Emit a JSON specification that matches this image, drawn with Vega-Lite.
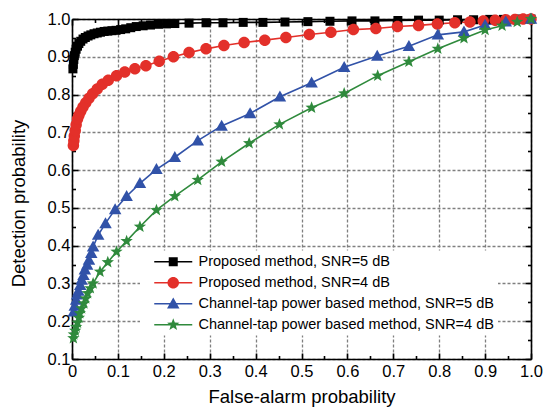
{
 "$schema": "https://vega.github.io/schema/vega-lite/v6.json",
 "width": 459, "height": 340,
 "autosize": {"type": "none"},
 "padding": {"left": 72, "top": 19, "right": 13, "bottom": 52},
 "background": "white",
 "config": {
  "view": {"stroke": null},
  "font": "Liberation Sans",
  "axis": {"labelFont": "Liberation Sans", "titleFont": "Liberation Sans", "labelColor": "black", "titleColor": "black", "tickColor": "black", "domainColor": "black", "domainWidth": 1.6, "tickWidth": 1.6, "labelFontSize": 16.5, "titleFontSize": 18.5, "titleFontWeight": "normal", "grid": false, "labelFlush": false, "labelOverlap": false}
 },
 "resolve": {"axis": {"x": "independent", "y": "independent"}, "scale": {"color": "independent", "shape": "independent"}},
 "data": {"values": [
  {"s":"Proposed method, SNR=5 dB","fa":0.002,"pd":0.868},{"s":"Proposed method, SNR=5 dB","fa":0.003,"pd":0.88},{"s":"Proposed method, SNR=5 dB","fa":0.004,"pd":0.893},{"s":"Proposed method, SNR=5 dB","fa":0.005,"pd":0.903},{"s":"Proposed method, SNR=5 dB","fa":0.007,"pd":0.912},{"s":"Proposed method, SNR=5 dB","fa":0.009,"pd":0.92},{"s":"Proposed method, SNR=5 dB","fa":0.012,"pd":0.928},{"s":"Proposed method, SNR=5 dB","fa":0.015,"pd":0.935},{"s":"Proposed method, SNR=5 dB","fa":0.019,"pd":0.941},{"s":"Proposed method, SNR=5 dB","fa":0.024,"pd":0.947},{"s":"Proposed method, SNR=5 dB","fa":0.029,"pd":0.951},{"s":"Proposed method, SNR=5 dB","fa":0.035,"pd":0.955},{"s":"Proposed method, SNR=5 dB","fa":0.041,"pd":0.958},{"s":"Proposed method, SNR=5 dB","fa":0.048,"pd":0.961},{"s":"Proposed method, SNR=5 dB","fa":0.055,"pd":0.963},{"s":"Proposed method, SNR=5 dB","fa":0.062,"pd":0.965},{"s":"Proposed method, SNR=5 dB","fa":0.07,"pd":0.967},{"s":"Proposed method, SNR=5 dB","fa":0.078,"pd":0.968},{"s":"Proposed method, SNR=5 dB","fa":0.087,"pd":0.969},{"s":"Proposed method, SNR=5 dB","fa":0.096,"pd":0.97},{"s":"Proposed method, SNR=5 dB","fa":0.106,"pd":0.972},{"s":"Proposed method, SNR=5 dB","fa":0.117,"pd":0.974},{"s":"Proposed method, SNR=5 dB","fa":0.128,"pd":0.977},{"s":"Proposed method, SNR=5 dB","fa":0.14,"pd":0.98},{"s":"Proposed method, SNR=5 dB","fa":0.155,"pd":0.982},{"s":"Proposed method, SNR=5 dB","fa":0.171,"pd":0.984},{"s":"Proposed method, SNR=5 dB","fa":0.188,"pd":0.986},{"s":"Proposed method, SNR=5 dB","fa":0.206,"pd":0.987},{"s":"Proposed method, SNR=5 dB","fa":0.224,"pd":0.988},{"s":"Proposed method, SNR=5 dB","fa":0.255,"pd":0.989},{"s":"Proposed method, SNR=5 dB","fa":0.292,"pd":0.99},{"s":"Proposed method, SNR=5 dB","fa":0.329,"pd":0.99},{"s":"Proposed method, SNR=5 dB","fa":0.373,"pd":0.991},{"s":"Proposed method, SNR=5 dB","fa":0.416,"pd":0.991},{"s":"Proposed method, SNR=5 dB","fa":0.464,"pd":0.992},{"s":"Proposed method, SNR=5 dB","fa":0.514,"pd":0.993},{"s":"Proposed method, SNR=5 dB","fa":0.562,"pd":0.994},{"s":"Proposed method, SNR=5 dB","fa":0.61,"pd":0.995},{"s":"Proposed method, SNR=5 dB","fa":0.66,"pd":0.995},{"s":"Proposed method, SNR=5 dB","fa":0.71,"pd":0.996},{"s":"Proposed method, SNR=5 dB","fa":0.755,"pd":0.997},{"s":"Proposed method, SNR=5 dB","fa":0.8,"pd":0.997},{"s":"Proposed method, SNR=5 dB","fa":0.84,"pd":0.998},{"s":"Proposed method, SNR=5 dB","fa":0.875,"pd":0.998},{"s":"Proposed method, SNR=5 dB","fa":0.91,"pd":0.999},{"s":"Proposed method, SNR=5 dB","fa":0.94,"pd":0.999},{"s":"Proposed method, SNR=5 dB","fa":0.97,"pd":1.0},{"s":"Proposed method, SNR=5 dB","fa":1.0,"pd":1.0},
  {"s":"Proposed method, SNR=4 dB","fa":0.003,"pd":0.665},{"s":"Proposed method, SNR=4 dB","fa":0.004,"pd":0.678},{"s":"Proposed method, SNR=4 dB","fa":0.005,"pd":0.69},{"s":"Proposed method, SNR=4 dB","fa":0.007,"pd":0.705},{"s":"Proposed method, SNR=4 dB","fa":0.009,"pd":0.72},{"s":"Proposed method, SNR=4 dB","fa":0.012,"pd":0.735},{"s":"Proposed method, SNR=4 dB","fa":0.015,"pd":0.745},{"s":"Proposed method, SNR=4 dB","fa":0.019,"pd":0.756},{"s":"Proposed method, SNR=4 dB","fa":0.024,"pd":0.767},{"s":"Proposed method, SNR=4 dB","fa":0.03,"pd":0.778},{"s":"Proposed method, SNR=4 dB","fa":0.037,"pd":0.79},{"s":"Proposed method, SNR=4 dB","fa":0.045,"pd":0.802},{"s":"Proposed method, SNR=4 dB","fa":0.055,"pd":0.815},{"s":"Proposed method, SNR=4 dB","fa":0.066,"pd":0.827},{"s":"Proposed method, SNR=4 dB","fa":0.079,"pd":0.838},{"s":"Proposed method, SNR=4 dB","fa":0.097,"pd":0.85},{"s":"Proposed method, SNR=4 dB","fa":0.115,"pd":0.86},{"s":"Proposed method, SNR=4 dB","fa":0.137,"pd":0.868},{"s":"Proposed method, SNR=4 dB","fa":0.161,"pd":0.876},{"s":"Proposed method, SNR=4 dB","fa":0.19,"pd":0.888},{"s":"Proposed method, SNR=4 dB","fa":0.221,"pd":0.9},{"s":"Proposed method, SNR=4 dB","fa":0.255,"pd":0.911},{"s":"Proposed method, SNR=4 dB","fa":0.292,"pd":0.921},{"s":"Proposed method, SNR=4 dB","fa":0.331,"pd":0.93},{"s":"Proposed method, SNR=4 dB","fa":0.375,"pd":0.938},{"s":"Proposed method, SNR=4 dB","fa":0.42,"pd":0.944},{"s":"Proposed method, SNR=4 dB","fa":0.466,"pd":0.951},{"s":"Proposed method, SNR=4 dB","fa":0.517,"pd":0.959},{"s":"Proposed method, SNR=4 dB","fa":0.564,"pd":0.965},{"s":"Proposed method, SNR=4 dB","fa":0.613,"pd":0.972},{"s":"Proposed method, SNR=4 dB","fa":0.662,"pd":0.975},{"s":"Proposed method, SNR=4 dB","fa":0.709,"pd":0.98},{"s":"Proposed method, SNR=4 dB","fa":0.755,"pd":0.983},{"s":"Proposed method, SNR=4 dB","fa":0.796,"pd":0.987},{"s":"Proposed method, SNR=4 dB","fa":0.834,"pd":0.99},{"s":"Proposed method, SNR=4 dB","fa":0.867,"pd":0.992},{"s":"Proposed method, SNR=4 dB","fa":0.896,"pd":0.995},{"s":"Proposed method, SNR=4 dB","fa":0.922,"pd":0.997},{"s":"Proposed method, SNR=4 dB","fa":0.945,"pd":0.998},{"s":"Proposed method, SNR=4 dB","fa":0.965,"pd":0.999},{"s":"Proposed method, SNR=4 dB","fa":0.983,"pd":1.0},{"s":"Proposed method, SNR=4 dB","fa":1.0,"pd":1.0},
  {"s":"Channel-tap power based method, SNR=5 dB","fa":0.004,"pd":0.225},{"s":"Channel-tap power based method, SNR=5 dB","fa":0.006,"pd":0.24},{"s":"Channel-tap power based method, SNR=5 dB","fa":0.009,"pd":0.256},{"s":"Channel-tap power based method, SNR=5 dB","fa":0.011,"pd":0.27},{"s":"Channel-tap power based method, SNR=5 dB","fa":0.014,"pd":0.28},{"s":"Channel-tap power based method, SNR=5 dB","fa":0.018,"pd":0.295},{"s":"Channel-tap power based method, SNR=5 dB","fa":0.021,"pd":0.309},{"s":"Channel-tap power based method, SNR=5 dB","fa":0.025,"pd":0.322},{"s":"Channel-tap power based method, SNR=5 dB","fa":0.028,"pd":0.336},{"s":"Channel-tap power based method, SNR=5 dB","fa":0.033,"pd":0.349},{"s":"Channel-tap power based method, SNR=5 dB","fa":0.037,"pd":0.362},{"s":"Channel-tap power based method, SNR=5 dB","fa":0.042,"pd":0.38},{"s":"Channel-tap power based method, SNR=5 dB","fa":0.046,"pd":0.397},{"s":"Channel-tap power based method, SNR=5 dB","fa":0.057,"pd":0.428},{"s":"Channel-tap power based method, SNR=5 dB","fa":0.073,"pd":0.459},{"s":"Channel-tap power based method, SNR=5 dB","fa":0.094,"pd":0.496},{"s":"Channel-tap power based method, SNR=5 dB","fa":0.119,"pd":0.531},{"s":"Channel-tap power based method, SNR=5 dB","fa":0.148,"pd":0.565},{"s":"Channel-tap power based method, SNR=5 dB","fa":0.184,"pd":0.602},{"s":"Channel-tap power based method, SNR=5 dB","fa":0.224,"pd":0.634},{"s":"Channel-tap power based method, SNR=5 dB","fa":0.274,"pd":0.678},{"s":"Channel-tap power based method, SNR=5 dB","fa":0.326,"pd":0.717},{"s":"Channel-tap power based method, SNR=5 dB","fa":0.388,"pd":0.75},{"s":"Channel-tap power based method, SNR=5 dB","fa":0.453,"pd":0.794},{"s":"Channel-tap power based method, SNR=5 dB","fa":0.522,"pd":0.831},{"s":"Channel-tap power based method, SNR=5 dB","fa":0.593,"pd":0.872},{"s":"Channel-tap power based method, SNR=5 dB","fa":0.665,"pd":0.902},{"s":"Channel-tap power based method, SNR=5 dB","fa":0.734,"pd":0.928},{"s":"Channel-tap power based method, SNR=5 dB","fa":0.797,"pd":0.958},{"s":"Channel-tap power based method, SNR=5 dB","fa":0.854,"pd":0.966},{"s":"Channel-tap power based method, SNR=5 dB","fa":0.9,"pd":0.984},{"s":"Channel-tap power based method, SNR=5 dB","fa":0.945,"pd":0.993},{"s":"Channel-tap power based method, SNR=5 dB","fa":1.0,"pd":1.0},
  {"s":"Channel-tap power based method, SNR=4 dB","fa":0.003,"pd":0.155},{"s":"Channel-tap power based method, SNR=4 dB","fa":0.004,"pd":0.165},{"s":"Channel-tap power based method, SNR=4 dB","fa":0.007,"pd":0.175},{"s":"Channel-tap power based method, SNR=4 dB","fa":0.009,"pd":0.185},{"s":"Channel-tap power based method, SNR=4 dB","fa":0.012,"pd":0.196},{"s":"Channel-tap power based method, SNR=4 dB","fa":0.015,"pd":0.209},{"s":"Channel-tap power based method, SNR=4 dB","fa":0.017,"pd":0.221},{"s":"Channel-tap power based method, SNR=4 dB","fa":0.021,"pd":0.234},{"s":"Channel-tap power based method, SNR=4 dB","fa":0.026,"pd":0.247},{"s":"Channel-tap power based method, SNR=4 dB","fa":0.03,"pd":0.26},{"s":"Channel-tap power based method, SNR=4 dB","fa":0.034,"pd":0.274},{"s":"Channel-tap power based method, SNR=4 dB","fa":0.04,"pd":0.287},{"s":"Channel-tap power based method, SNR=4 dB","fa":0.046,"pd":0.3},{"s":"Channel-tap power based method, SNR=4 dB","fa":0.061,"pd":0.331},{"s":"Channel-tap power based method, SNR=4 dB","fa":0.078,"pd":0.356},{"s":"Channel-tap power based method, SNR=4 dB","fa":0.097,"pd":0.384},{"s":"Channel-tap power based method, SNR=4 dB","fa":0.119,"pd":0.412},{"s":"Channel-tap power based method, SNR=4 dB","fa":0.148,"pd":0.45},{"s":"Channel-tap power based method, SNR=4 dB","fa":0.184,"pd":0.494},{"s":"Channel-tap power based method, SNR=4 dB","fa":0.224,"pd":0.531},{"s":"Channel-tap power based method, SNR=4 dB","fa":0.274,"pd":0.574},{"s":"Channel-tap power based method, SNR=4 dB","fa":0.326,"pd":0.622},{"s":"Channel-tap power based method, SNR=4 dB","fa":0.386,"pd":0.671},{"s":"Channel-tap power based method, SNR=4 dB","fa":0.452,"pd":0.721},{"s":"Channel-tap power based method, SNR=4 dB","fa":0.522,"pd":0.765},{"s":"Channel-tap power based method, SNR=4 dB","fa":0.593,"pd":0.803},{"s":"Channel-tap power based method, SNR=4 dB","fa":0.666,"pd":0.85},{"s":"Channel-tap power based method, SNR=4 dB","fa":0.734,"pd":0.887},{"s":"Channel-tap power based method, SNR=4 dB","fa":0.797,"pd":0.921},{"s":"Channel-tap power based method, SNR=4 dB","fa":0.854,"pd":0.949},{"s":"Channel-tap power based method, SNR=4 dB","fa":0.9,"pd":0.971},{"s":"Channel-tap power based method, SNR=4 dB","fa":0.937,"pd":0.982},{"s":"Channel-tap power based method, SNR=4 dB","fa":0.97,"pd":0.992},{"s":"Channel-tap power based method, SNR=4 dB","fa":1.0,"pd":1.0}
 ]},
 "layer": [
  {
   "mark": {"type": "line", "strokeWidth": 1.6},
   "encoding": {
    "x": {"field": "fa", "type": "quantitative", "scale": {"domain": [0, 1], "nice": false, "zero": false},
     "axis": {"orient": "bottom", "values": [0,0.1,0.2,0.3,0.4,0.5,0.6,0.7,0.8,0.9,1.0], "grid": true, "gridDash": [3,2], "gridColor": "#7f7f7f", "gridWidth": 1.3, "tickSize": -6, "labelPadding": 10, "labelExpr": "datum.value == 0 ? '0' : format(datum.value, '.1f')", "title": "False-alarm probability", "titleY": 43, "titleBaseline": "alphabetic"}},
    "y": {"field": "pd", "type": "quantitative", "scale": {"domain": [0.1, 1], "nice": false, "zero": false},
     "axis": {"orient": "left", "values": [0.1,0.2,0.3,0.4,0.5,0.6,0.7,0.8,0.9,1.0], "grid": true, "gridDash": [3,2], "gridColor": "#7f7f7f", "gridWidth": 1.3, "tickSize": -6, "labelPadding": 8, "format": ".1f", "title": "Detection probability", "titleX": -54, "titleY": 184, "titleAlign": "center", "titleBaseline": "middle", "titleAngle": -90}},
    "color": {"field": "s", "type": "nominal", "legend": null,
     "scale": {"domain": ["Proposed method, SNR=5 dB", "Proposed method, SNR=4 dB", "Channel-tap power based method, SNR=5 dB", "Channel-tap power based method, SNR=4 dB"], "range": ["#000000", "#e3302a", "#3152a8", "#2f8a3c"]}}
   }
  },
  {
   "mark": {"type": "point", "filled": true, "opacity": 1, "size": 100},
   "encoding": {
    "x": {"field": "fa", "type": "quantitative", "axis": {"orient": "top", "values": [0,0.1,0.2,0.3,0.4,0.5,0.6,0.7,0.8,0.9,1.0], "tickSize": -6, "labels": false, "grid": false, "title": null}},
    "y": {"field": "pd", "type": "quantitative", "axis": {"orient": "right", "values": [0.1,0.2,0.3,0.4,0.5,0.6,0.7,0.8,0.9,1.0], "tickSize": -6, "labels": false, "grid": false, "title": null}},
    "color": {"field": "s", "type": "nominal", "legend": null,
     "scale": {"domain": ["Proposed method, SNR=5 dB", "Proposed method, SNR=4 dB", "Channel-tap power based method, SNR=5 dB", "Channel-tap power based method, SNR=4 dB"], "range": ["#000000", "#e3302a", "#3152a8", "#2f8a3c"]}},
    "shape": {"field": "s", "type": "nominal", "legend": null,
     "scale": {"domain": ["Proposed method, SNR=5 dB", "Proposed method, SNR=4 dB", "Channel-tap power based method, SNR=5 dB", "Channel-tap power based method, SNR=4 dB"],
      "range": ["M-0.9,-0.9H0.9V0.9H-0.9Z", "M-1.15,0A1.15,1.15,0,1,1,1.15,0A1.15,1.15,0,1,1,-1.15,0Z", "M0,-1.25L1.25,0.95H-1.25Z", "M0,-1.3L0.318,-0.439L1.236,-0.402L0.516,0.168L0.764,1.052L0,0.542L-0.764,1.052L-0.516,0.168L-1.236,-0.402L-0.318,-0.439Z"]}}
   }
  },
  {
   "mark": {"type": "point", "filled": true, "opacity": 0},
   "encoding": {
    "x": {"field": "fa", "type": "quantitative", "axis": {"orient": "bottom", "values": [0.05,0.15,0.25,0.35,0.45,0.55,0.65,0.75,0.85,0.95], "tickSize": -3.5, "labels": false, "domain": false, "grid": false, "title": null}},
    "y": {"field": "pd", "type": "quantitative", "axis": {"orient": "left", "values": [0.15,0.25,0.35,0.45,0.55,0.65,0.75,0.85,0.95], "tickSize": -3.5, "labels": false, "domain": false, "grid": false, "title": null}},
    "color": {"field": "s", "type": "nominal",
     "scale": {"domain": ["Proposed method, SNR=5 dB", "Proposed method, SNR=4 dB", "Channel-tap power based method, SNR=5 dB", "Channel-tap power based method, SNR=4 dB"], "range": ["#000000", "#e3302a", "#3152a8", "#2f8a3c"]},
     "legend": {"title": null, "orient": "none", "legendX": 68, "legendY": 231.5, "fillColor": "white", "padding": 4, "symbolSize": 100, "symbolStrokeWidth": 0, "symbolOpacity": 1, "symbolOffset": 22, "labelOffset": 18, "labelFontSize": 14.5, "labelFont": "Liberation Sans", "labelColor": "black", "labelLimit": 400, "rowPadding": 6, "zindex": 2}},
    "shape": {"field": "s", "type": "nominal",
     "scale": {"domain": ["Proposed method, SNR=5 dB", "Proposed method, SNR=4 dB", "Channel-tap power based method, SNR=5 dB", "Channel-tap power based method, SNR=4 dB"],
      "range": ["M-3.8,-0.16H3.8V0.16H-3.8ZM-0.9,-0.9H0.9V0.9H-0.9Z", "M-3.8,-0.16H3.8V0.16H-3.8ZM-1.15,0A1.15,1.15,0,1,1,1.15,0A1.15,1.15,0,1,1,-1.15,0Z", "M-3.8,-0.16H3.8V0.16H-3.8ZM0,-1.25L1.25,0.95H-1.25Z", "M-3.8,-0.16H3.8V0.16H-3.8ZM0,-1.3L0.318,-0.439L1.236,-0.402L0.516,0.168L0.764,1.052L0,0.542L-0.764,1.052L-0.516,0.168L-1.236,-0.402L-0.318,-0.439Z"]},
     "legend": {"title": null, "orient": "none", "legendX": 68, "legendY": 231.5, "fillColor": "white", "padding": 4, "symbolSize": 100, "symbolStrokeWidth": 0, "symbolOpacity": 1, "symbolOffset": 22, "labelOffset": 18, "labelFontSize": 14.5, "labelFont": "Liberation Sans", "labelColor": "black", "labelLimit": 400, "rowPadding": 6, "zindex": 2}}
   }
  },
  {
   "mark": {"type": "point", "opacity": 0},
   "encoding": {
    "x": {"field": "fa", "type": "quantitative", "axis": {"orient": "top", "values": [0.05,0.15,0.25,0.35,0.45,0.55,0.65,0.75,0.85,0.95], "tickSize": -3.5, "labels": false, "domain": false, "grid": false, "title": null}},
    "y": {"field": "pd", "type": "quantitative", "axis": {"orient": "right", "values": [0.15,0.25,0.35,0.45,0.55,0.65,0.75,0.85,0.95], "tickSize": -3.5, "labels": false, "domain": false, "grid": false, "title": null}}
   }
  }
 ]
}
